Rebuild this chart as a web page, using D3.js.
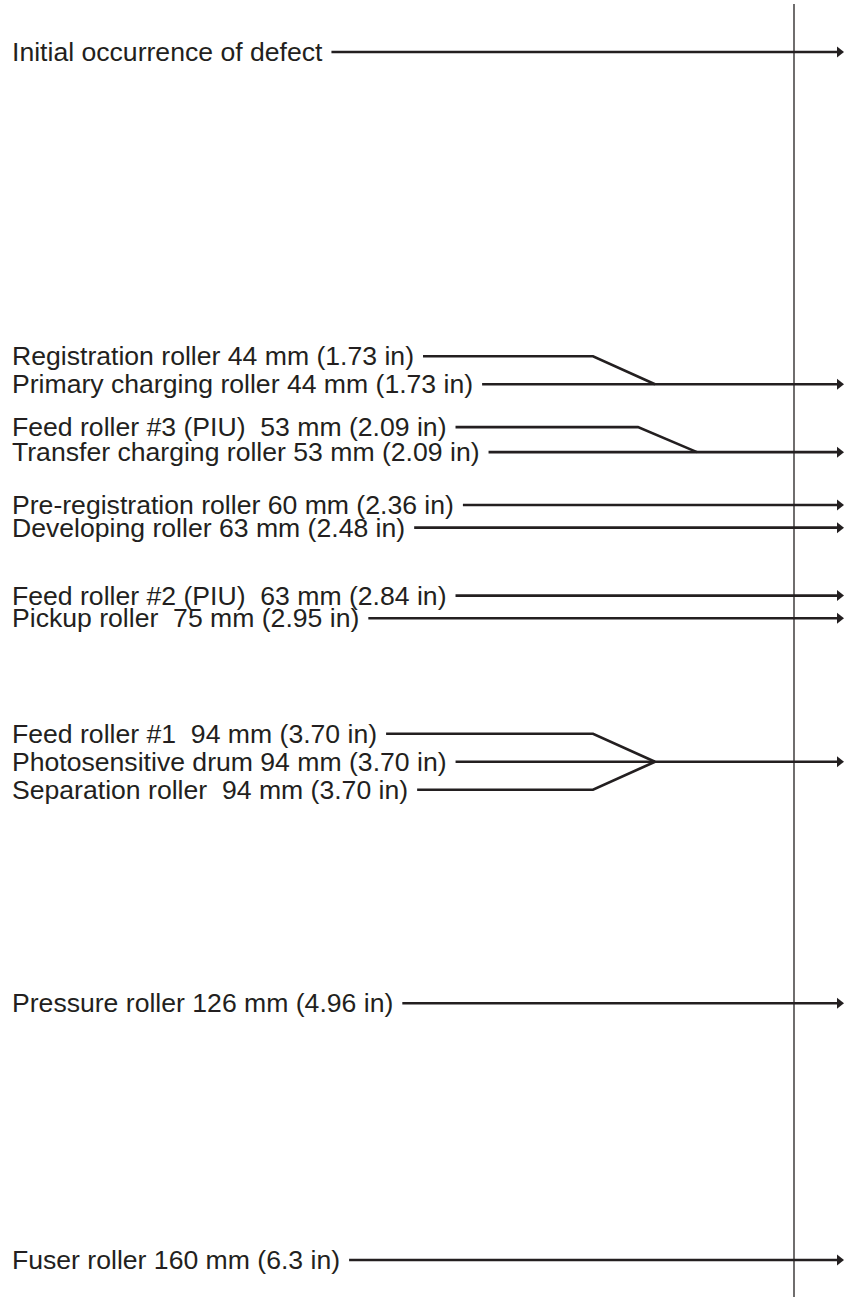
<!DOCTYPE html>
<html>
<head>
<meta charset="utf-8">
<script src="https://cdn.jsdelivr.net/npm/d3@7"></script>
<style>
  body { margin: 0; background: #fff; }
  text { font-family: "Liberation Sans", Arial, Helvetica, sans-serif; white-space: pre; }
</style>
</head>
<body>
<script>
// Repeating defect ruler: distance from first occurrence of the defect

// Data
var labels = [
    "Initial occurrence of defect",
    "Registration roller 44 mm (1.73 in)",
    "Primary charging roller 44 mm (1.73 in)",
    "Feed roller #3 (PIU)  53 mm (2.09 in)",
    "Transfer charging roller 53 mm (2.09 in)",
    "Pre-registration roller 60 mm (2.36 in)",
    "Developing roller 63 mm (2.48 in)",
    "Feed roller #2 (PIU)  63 mm (2.84 in)",
    "Pickup roller  75 mm (2.95 in)",
    "Feed roller #1  94 mm (3.70 in)",
    "Photosensitive drum 94 mm (3.70 in)",
    "Separation roller  94 mm (3.70 in)",
    "Pressure roller 126 mm (4.96 in)",
    "Fuser roller 160 mm (6.3 in)"
];
// position along the ruler, mm
var distances = [0, 44, 44, 53, 53, 60, 63, 72, 75, 94, 94, 94, 126, 160];

// Width and height
var w = 844;
var h = 1297;

// layout of the merged leader lines (bend / join x, row gap)
var joins = {
    44: {bend: 593, join: 655, gap: 28},
    53: {bend: 638, join: 697, gap: 25},
    94: {bend: 593, join: 655, gap: 28}
};
var labelX = 12;
var rulerX = 794;
var arrowEnd = 844;
var ink = "#231f20";

// Scale: mm -> y
var yScale = d3.scaleLinear()
    .domain([0, 160])
    .range([52, 1260]);

var svg = d3.select("body")
    .append("svg")
    .attr("width", w)
    .attr("height", h);

// vertical ruler line
svg.append("line")
    .attr("x1", rulerX).attr("x2", rulerX)
    .attr("y1", 4).attr("y2", h)
    .attr("stroke", ink)
    .attr("stroke-width", 1.3);

// build rows: group labels sharing the same distance
var rows = labels.map(function(l, i) { return {label: l, mm: distances[i]}; });
var groups = d3.group(rows, function(d) { return d.mm; });
groups.forEach(function(g, mm) {
    var mid = Math.ceil((g.length - 1) / 2);
    var gap = joins[mm] ? joins[mm].gap : 0;
    g.forEach(function(d, i) {
        d.off = (i - mid) * gap;
        d.y = yScale(mm) + d.off;
    });
});

// labels
var txt = svg.selectAll(".lbl")
    .data(rows)
    .enter().append("text")
    .attr("class", "lbl")
    .attr("x", labelX)
    .attr("y", function(d) { return d.y; })
    .attr("dy", 9)
    .attr("fill", ink)
    .style("font-size", "26.6px")
    .text(function(d) { return d.label; });

txt.each(function(d) { d.end = labelX + this.getComputedTextLength(); });

// leader lines
var leaders = svg.append("g")
    .attr("fill", "none")
    .attr("stroke", ink)
    .attr("stroke-width", 2.6);

rows.forEach(function(d) {
    var x0 = d.end + 9;
    var pts;
    if (d.off !== 0) {
        var j = joins[d.mm];
        pts = [[x0, d.y], [j.bend, d.y], [j.join, yScale(d.mm)]];
    } else {
        pts = [[x0, d.y], [arrowEnd - 6, d.y]];
    }
    leaders.append("path").attr("d", d3.line()(pts));
});

// arrowheads, one per distance
svg.selectAll(".head")
    .data(Array.from(groups.keys()))
    .enter().append("path")
    .attr("class", "head")
    .attr("fill", ink)
    .attr("d", function(mm) {
        var y = yScale(mm);
        return "M" + (arrowEnd - 7) + "," + (y - 5.5) + "L" + arrowEnd + "," + y + "L" + (arrowEnd - 7) + "," + (y + 5.5) + "Z";
    });
</script>
</body>
</html>
